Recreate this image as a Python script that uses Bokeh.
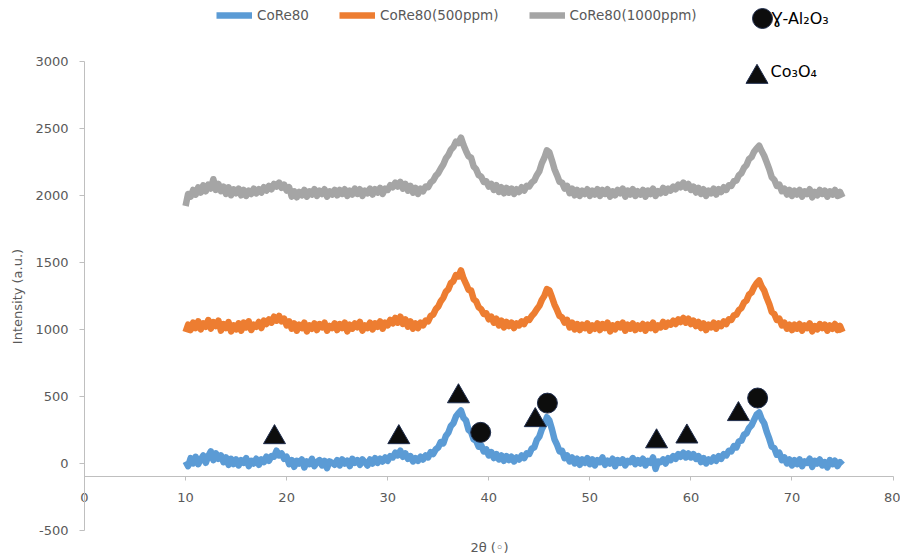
import numpy as np
from bokeh.plotting import figure
from bokeh.models import Range1d, LinearAxis, FixedTicker, Legend, LegendItem, Label, PrintfTickFormatter
from bokeh.core.properties import value
from bokeh.embed import file_html
from bokeh.resources import INLINE

# ---------------- data ----------------
x_ticks = [0, 10, 20, 30, 40, 50, 60, 70, 80]
y_ticks = [-500, 0, 500, 1000, 1500, 2000, 2500, 3000]
x_axis_cross = -100
x_title = "2\u03b8 (\u25e6)"
y_title = "Intensity (a.u.)"

two_theta = np.round(np.arange(10.0, 75.001, 0.25), 2)

core80 = [
    15, -20, 40, 0, 50, -5, 30, 60, 5, 55, 90, 25, 75, 35, 60, 10, 45, -10, 35, -5,
    30, -15, 25, 5, 40, -20, 20, 0, 35, -10, 30, 10, 50, 20, 55, 50, 95, 60, 75, 35,
    50, -5, 25, -25, 20, 0, 30, -30, 15, -5, 35, -20, 10, 25, -15, 20, -35, 15, 5, -10,
    25, -15, 30, 0, 20, -20, 35, 5, 25, -10, 30, 10, -15, 30, 0, 40, 5, 35, 15, 45,
    20, 55, 45, 80, 60, 95, 50, 75, 35, 55, 15, 40, 20, 50, 30, 60, 45, 85, 70, 105,
    120, 160, 150, 205, 230, 280, 300, 350, 375, 395, 340, 320, 250, 235, 180, 170, 125, 135, 90, 105,
    60, 85, 40, 70, 30, 60, 20, 55, 25, 50, 15, 45, 30, 60, 40, 75, 70, 110, 120, 175,
    200, 255, 290, 345, 320, 255, 180, 140, 90, 95, 40, 60, 15, 45, 0, 35, -10, 30, 5, 40,
    -5, 30, -15, 25, 10, 45, -10, 20, 0, 35, -20, 25, 5, 30, -15, 20, 10, 40, -5, 25,
    0, 35, -15, 20, 5, 45, -40, 15, 10, 30, 0, 40, 25, 55, 35, 70, 50, 80, 45, 75,
    45, 70, 35, 55, 10, 40, 0, 30, 15, 45, 20, 55, 35, 70, 60, 95, 90, 130, 120, 165,
    170, 215, 225, 265, 285, 325, 365, 380, 330, 300, 235, 185, 125, 115, 65, 80, 25, 45, 0, 30,
    -15, 25, -5, 30, -20, 15, 5, 35, -25, 20, 0, 30, -15, 10, -30, 25, -5, 20, -20, 10,
    -10,
]

core80_500 = [
    980, 1035, 995, 1050, 1010, 1060, 1000, 1045, 1020, 1070, 1005, 1055, 1025, 1065, 990, 1040, 1010, 1055, 985, 1030,
    1000, 1045, 990, 1050, 1015, 1060, 995, 1035, 1020, 1055, 1010, 1065, 1040, 1075, 1050, 1095, 1065, 1100, 1060, 1080,
    1030, 1060, 1005, 1045, 990, 1035, 1010, 1050, 985, 1030, 1005, 1045, 995, 1040, 1015, 1050, 990, 1025, 1010, 1045,
    995, 1040, 1010, 1050, 985, 1035, 1005, 1045, 1015, 1055, 990, 1030, 1010, 1050, 1000, 1045, 1020, 1060, 1005, 1050,
    1030, 1070, 1045, 1085, 1050, 1095, 1040, 1075, 1020, 1060, 1005, 1045, 1010, 1050, 1030, 1065, 1060, 1100, 1110, 1150,
    1170, 1210, 1235, 1280, 1300, 1345, 1360, 1405, 1395, 1440, 1380, 1340, 1295, 1290, 1225, 1210, 1165, 1150, 1115, 1120,
    1075, 1095, 1050, 1080, 1030, 1065, 1015, 1055, 1025, 1050, 1010, 1045, 1030, 1060, 1040, 1075, 1070, 1100, 1120, 1150,
    1175, 1220, 1250, 1300, 1290, 1240, 1185, 1145, 1100, 1090, 1050, 1070, 1015, 1050, 1000, 1040, 995, 1035, 1010, 1045,
    990, 1030, 1005, 1045, 995, 1040, 1010, 1050, 985, 1030, 1000, 1040, 1015, 1050, 990, 1035, 1005, 1045, 995, 1030,
    1005, 1040, 990, 1035, 1010, 1050, 995, 1030, 1015, 1055, 1020, 1050, 1035, 1065, 1040, 1075, 1055, 1085, 1050, 1080,
    1040, 1065, 1025, 1055, 1010, 1045, 995, 1035, 1015, 1050, 1005, 1045, 1025, 1060, 1040, 1075, 1070, 1105, 1110, 1145,
    1160, 1200, 1215, 1260, 1275, 1315, 1345, 1365, 1320, 1290, 1235, 1190, 1130, 1115, 1070, 1080, 1030, 1050, 1005, 1035,
    995, 1035, 1005, 1040, 990, 1030, 1010, 1045, 985, 1025, 1000, 1040, 1010, 1035, 990, 1030, 1005, 1040, 995, 1025,
    980,
]

core80_1000 = [
    1920, 2010, 1990, 2040, 2005, 2060, 2020, 2075, 2030, 2080, 2050, 2120, 2040, 2085, 2030, 2065, 2010, 2060, 2000, 2045,
    2015, 2050, 2000, 2040, 1995, 2035, 2010, 2050, 2015, 2045, 2020, 2060, 2035, 2070, 2045, 2085, 2065, 2095, 2055, 2080,
    2035, 2060, 1990, 2030, 1985, 2025, 2000, 2040, 1990, 2030, 2005, 2045, 1995, 2035, 2010, 2045, 1990, 2030, 2005, 2040,
    2000, 2040, 2010, 2045, 1995, 2035, 2005, 2050, 2010, 2045, 1995, 2035, 2015, 2050, 2005, 2045, 2020, 2055, 2010, 2050,
    2040, 2075, 2060, 2095, 2065, 2100, 2050, 2085, 2035, 2070, 2020, 2055, 2010, 2050, 2030, 2065, 2060, 2095, 2110, 2145,
    2165, 2200, 2230, 2275, 2300, 2340, 2360, 2400, 2390, 2430, 2375, 2330, 2290, 2280, 2215, 2195, 2150, 2140, 2100, 2105,
    2065, 2085, 2040, 2075, 2025, 2060, 2015, 2055, 2020, 2050, 2010, 2045, 2025, 2060, 2035, 2070, 2065, 2095, 2110, 2150,
    2180, 2240, 2280, 2335, 2320, 2260, 2195, 2150, 2100, 2095, 2050, 2070, 2015, 2050, 2000, 2040, 1995, 2035, 2010, 2045,
    1995, 2035, 2005, 2045, 1995, 2040, 2010, 2045, 1990, 2030, 2000, 2040, 2015, 2050, 1990, 2035, 2005, 2045, 1995, 2030,
    2005, 2040, 1990, 2035, 2010, 2050, 1995, 2030, 2015, 2055, 2020, 2050, 2035, 2065, 2045, 2080, 2060, 2095, 2055, 2085,
    2040, 2065, 2020, 2055, 2010, 2045, 1995, 2035, 2015, 2050, 2005, 2045, 2025, 2060, 2040, 2075, 2070, 2105, 2110, 2150,
    2165, 2205, 2225, 2270, 2285, 2325, 2350, 2370, 2330, 2295, 2245, 2195, 2135, 2115, 2070, 2080, 2030, 2050, 2005, 2040,
    1995, 2035, 2005, 2040, 1990, 2030, 2010, 2045, 1985, 2025, 2000, 2040, 2010, 2035, 1990, 2030, 2005, 2040, 1995, 2025,
    1985,
]

series_names = ["CoRe80", "CoRe80(500ppm)", "CoRe80(1000ppm)"]
series_colors = ["#5B9BD5", "#ED7D31", "#A5A5A5"]

# phase markers on the CoRe80 pattern
co3o4_x = [18.8, 31.1, 37.0, 44.6, 56.6, 59.6, 64.7]
co3o4_y = [195, 195, 500, 322, 164, 200, 367]
al2o3_x = [39.2, 45.8, 66.6]
al2o3_y = [232, 450, 488]
phase_names = ["\u0194-Al\u2082O\u2083", "Co\u2083O\u2084"]

FONT = "DejaVu Sans"
GREY_TXT = "#595959"
AXIS_GREY = "#BFBFBF"
W, H = 900, 555

# the frame covers the whole canvas; axes are drawn at fixed locations inside it
p = figure(width=W, height=H, x_range=Range1d(-8.311, 80.736), y_range=Range1d(-686.4, 3452.7),
           x_axis_location=None, y_axis_location=None,
           output_backend="svg", toolbar_location=None,
           min_border=0, min_border_left=0, min_border_right=0, min_border_top=0, min_border_bottom=0)
p.outline_line_color = None
p.xgrid.visible = False
p.ygrid.visible = False
p.background_fill_color = "white"

# horizontal axis crossing at y = -100
xa = LinearAxis(fixed_location=x_axis_cross, ticker=FixedTicker(ticks=x_ticks),
                bounds=(x_ticks[0], x_ticks[-1]), formatter=PrintfTickFormatter(format="%d"))
xa.axis_line_color = AXIS_GREY
xa.major_tick_line_color = AXIS_GREY
xa.major_tick_out = 4
xa.major_tick_in = 0
xa.minor_tick_line_color = None
xa.major_label_standoff = 12
xa.major_label_text_font = FONT
xa.major_label_text_font_size = "13px"
xa.major_label_text_color = GREY_TXT
p.add_layout(xa, "below")

# vertical axis at x = 0
ya = LinearAxis(fixed_location=0, ticker=FixedTicker(ticks=y_ticks),
                bounds=(y_ticks[0], y_ticks[-1]), formatter=PrintfTickFormatter(format="%d"))
ya.axis_line_color = AXIS_GREY
ya.major_tick_line_color = AXIS_GREY
ya.major_tick_out = 5
ya.major_tick_in = 0
ya.minor_tick_line_color = None
ya.major_label_standoff = 11
ya.major_label_text_font = FONT
ya.major_label_text_font_size = "13px"
ya.major_label_text_color = GREY_TXT
p.add_layout(ya, "left")

# axis titles
p.add_layout(Label(x=489, y=8, x_units="screen", y_units="screen", text=x_title,
                   text_font=FONT, text_font_size="13px", text_color=GREY_TXT,
                   text_align="center", text_baseline="middle"))
p.add_layout(Label(x=17, y=259, x_units="screen", y_units="screen", text=y_title, angle=np.pi / 2,
                   text_font=FONT, text_font_size="13px", text_color=GREY_TXT,
                   text_align="center", text_baseline="middle"))

line_renderers = []
for ys, col in zip([core80, core80_500, core80_1000], series_colors):
    r = p.line(two_theta, ys, line_color=col, line_width=6.5, line_join="round")
    line_renderers.append(r)

r_al = p.scatter(al2o3_x, al2o3_y, marker="circle", size=20,
                 fill_color="#0D0D0D", line_color="#1F2D4D", line_width=1)
r_co = p.scatter(co3o4_x, co3o4_y, marker="triangle", size=22,
                 fill_color="#0D0D0D", line_color="#1F2D4D", line_width=1)

leg1 = Legend(items=[LegendItem(label=value(n), renderers=[r]) for n, r in zip(series_names, line_renderers)],
              orientation="horizontal", location=(216, 532),
              background_fill_alpha=0, border_line_color=None, padding=0, margin=0,
              spacing=30, glyph_width=36, glyph_height=16, label_height=16, label_standoff=5,
              label_text_font=FONT, label_text_font_size="13.5px", label_text_color=GREY_TXT)
p.add_layout(leg1)

# key markers for the phases (text set beside them as labels)
leg2 = Legend(items=[LegendItem(label=value(""), renderers=[r_al])],
              location=(737, 512),
              background_fill_alpha=0, border_line_color=None, padding=0, margin=0,
              glyph_width=50, glyph_height=50, label_standoff=0, label_width=0)
p.add_layout(leg2)
leg3 = Legend(items=[LegendItem(label=value(""), renderers=[r_co])],
              location=(729, 451),
              background_fill_alpha=0, border_line_color=None, padding=0, margin=0,
              glyph_width=55, glyph_height=55, label_standoff=0, label_width=0)
p.add_layout(leg3)

for txt, lx, ly in zip(phase_names, [771, 770], [537, 484]):
    p.add_layout(Label(x=lx, y=ly, x_units="screen", y_units="screen", text=txt,
                       text_font=FONT, text_font_size="16px", text_color="#000000",
                       text_baseline="middle", text_align="left"))

open("out.html", "w").write(file_html(p, INLINE))
